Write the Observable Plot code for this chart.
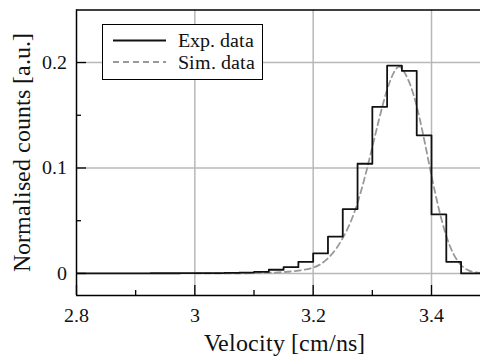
<!DOCTYPE html>
<html><head><meta charset="utf-8">
<script src="https://cdn.jsdelivr.net/npm/d3@7"></script>
<script src="https://cdn.jsdelivr.net/npm/@observablehq/plot@0.6"></script>
<style>
@font-face { font-family: "RefSerif"; src: local("Liberation Serif"), local("LiberationSerif"), local("LiberationSerif-Regular"), local("Tinos"), local("Times New Roman"); }
</style>
</head><body style="margin:0;font-size:20px;font-family:RefSerif,'Liberation Serif','Times New Roman',serif">
<div id="p"></div>
<div id="legend" style="position:absolute;left:102px;top:24px;width:161px;height:56px;border:1.5px solid #000;background:#fff;box-sizing:border-box">
  <svg width="158" height="53" style="display:block;font-family:RefSerif,'Liberation Serif','Times New Roman',serif" font-size="20">
    <line x1="10" x2="63" y1="15.5" y2="15.5" stroke="#111" stroke-width="1.8"/>
    <line x1="10" x2="63" y1="37" y2="37" stroke="#999" stroke-width="1.8" stroke-dasharray="6,4"/>
    <text x="75" y="22" fill="#111">Exp. data</text>
    <text x="75" y="44" fill="#111">Sim. data</text>
  </svg>
</div>
<script>
// Histogram bins (left edges) and experimental normalised counts
const binLeft = [2.8, 2.825, 2.85, 2.875, 2.9, 2.925, 2.95, 2.975,
                 3.0, 3.025, 3.05, 3.075, 3.1, 3.125, 3.15, 3.175,
                 3.2, 3.225, 3.25, 3.275, 3.3, 3.325, 3.35, 3.375,
                 3.4, 3.425, 3.45, 3.475, 3.5];
const expCounts = [0, 0, 0, 0.0001, 0.0001, 0.0002, 0.0002, 0.0003,
                   0.0003, 0.0004, 0.0005, 0.0008, 0.0015, 0.0035, 0.006, 0.011,
                   0.019, 0.035, 0.061, 0.104, 0.158, 0.197, 0.192, 0.131,
                   0.056, 0.011, 0, 0, 0];
// Simulated curve
const simVelocity = [3.0, 3.05, 3.1, 3.125, 3.15, 3.175, 3.2, 3.2125, 3.225, 3.2375,
                     3.25, 3.2625, 3.275, 3.2875, 3.3, 3.3125, 3.325, 3.3375, 3.345, 3.35,
                     3.3625, 3.375, 3.3875, 3.4, 3.4125, 3.425, 3.4375, 3.45, 3.4625, 3.475, 3.49];
const simCounts = [0, 0, 0.0003, 0.0006, 0.0012, 0.0025, 0.005, 0.0085, 0.014, 0.022,
                   0.033, 0.047, 0.066, 0.091, 0.12, 0.149, 0.176, 0.193, 0.197, 0.195,
                   0.183, 0.16, 0.128, 0.092, 0.06, 0.034, 0.017, 0.007, 0.0025, 0.0008, 0.0002];
const xTicks = [2.8, 3, 3.2, 3.4];
const xMinor = [2.9, 3.1, 3.3];
const yTicks = [0, 0.1, 0.2];
const yMinor = [0.05, 0.15];
const xLabel = "Velocity [cm/ns]";
const yLabel = "Normalised counts [a.u.]";

const xDom = [2.8, 3.4828];
const yDom = [-0.0209, 0.2498];
const pxX = 591.7, pxY = 1055;
const fam = "RefSerif, 'Liberation Serif', 'Times New Roman', serif";

const expData = binLeft.map((x, i) => ({x, y: expCounts[i]}));
const simData = simVelocity.map((x, i) => ({x, y: simCounts[i]}));

const chart = Plot.plot({
  width: 480, height: 356,
  marginLeft: 76, marginRight: 0, marginTop: 9.5, marginBottom: 61,
  x: {domain: xDom},
  y: {domain: yDom},
  style: {fontFamily: fam, fontSize: "20px"},
  marks: [
    Plot.gridX(xTicks.slice(1), {stroke: "#b8b8b8", strokeOpacity: 1, strokeWidth: 1.5}),
    Plot.gridY(yTicks, {stroke: "#b8b8b8", strokeOpacity: 1, strokeWidth: 1.5}),
    Plot.line(simData, {x: "x", y: "y", stroke: "#999", strokeWidth: 1.8, strokeDasharray: "6,4", curve: "basis", clip: true}),
    Plot.line(expData, {x: "x", y: "y", stroke: "#111", strokeWidth: 1.8, curve: "step-after", clip: true}),
    Plot.ruleY([yDom[1]], {stroke: "#000", strokeWidth: 1.5}),
    Plot.ruleY([yDom[0]], {stroke: "#000", strokeWidth: 1.5}),
    Plot.ruleX([xDom[0]], {stroke: "#000", strokeWidth: 1.5}),
    Plot.ruleX(xTicks, {y1: yDom[0], y2: yDom[0] + 10 / pxY, stroke: "#000", strokeWidth: 1.3}),
    Plot.ruleX(xMinor, {y1: yDom[0], y2: yDom[0] + 5 / pxY, stroke: "#000", strokeWidth: 1.3}),
    Plot.ruleY(yTicks, {x1: xDom[0], x2: xDom[0] + 10 / pxX, stroke: "#000", strokeWidth: 1.3}),
    Plot.ruleY(yMinor, {x1: xDom[0], x2: xDom[0] + 5 / pxX, stroke: "#000", strokeWidth: 1.3}),
    Plot.axisX(xTicks, {tickSize: 0, tickPadding: 12, fontSize: 20, label: null, fill: "#111", tickFormat: d => String(d)}),
    Plot.axisY(yTicks, {tickSize: 0, tickPadding: 10, fontSize: 20, label: null, fill: "#111", tickFormat: d => String(d)}),
    Plot.text([xLabel], {frameAnchor: "bottom", dx: 6, dy: 48, fontSize: 24, textAnchor: "middle", lineAnchor: "middle", fill: "#111"}),
    Plot.text([yLabel], {frameAnchor: "left", dx: -54, rotate: -90, fontSize: 24, textAnchor: "middle", lineAnchor: "middle", fill: "#111"})
  ]
});
document.getElementById("p").appendChild(chart);
</script>
</body></html>
